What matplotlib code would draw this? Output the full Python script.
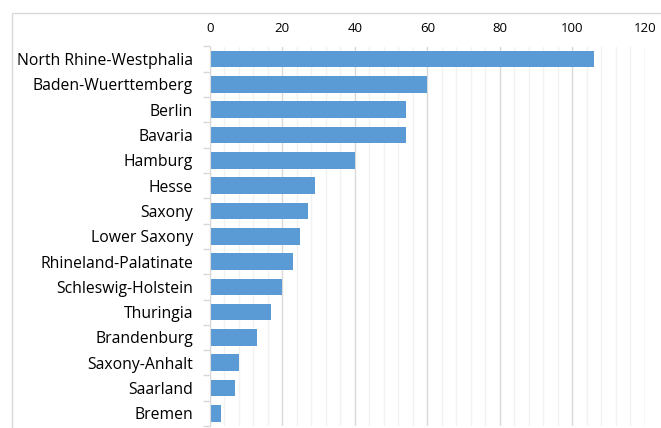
import matplotlib.pyplot as plt
import numpy as np
from matplotlib.patches import Rectangle

# number per state
states = ["North Rhine-Westphalia", "Baden-Wuerttemberg", "Berlin", "Bavaria",
          "Hamburg", "Hesse", "Saxony", "Lower Saxony", "Rhineland-Palatinate",
          "Schleswig-Holstein", "Thuringia", "Brandenburg", "Saxony-Anhalt",
          "Saarland", "Bremen"]
values = [106, 60, 54, 54, 40, 29, 27, 25, 23, 20, 17, 13, 8, 7, 3]
x_ticks = [0, 20, 40, 60, 80, 100, 120]

plt.rcParams['font.family'] = ['Open Sans', 'DejaVu Sans']

W, H = 661, 428
fig = plt.figure(figsize=(W / 100, H / 100), dpi=100)

# chart frame
fig.patches.append(Rectangle((12 / W, -0.1), 1.2, 1.1 - 13 / H,
                             transform=fig.transFigure, fill=False,
                             edgecolor='#D9D9D9', linewidth=1))

ax = fig.add_axes([209.7 / W, 2 / H, (645 - 209.7) / W, (426 - 46.5) / H])

y = np.arange(len(states))
ax.barh(y, values, height=0.66, color='#5B9BD5', zorder=3)
ax.set_ylim(len(states) - 0.5, -0.5)
ax.set_xlim(0, 120)

# gridlines: major every 20, minor every 4
for v in np.arange(0, 121, 4):
    if v % 20 == 0:
        ax.axvline(v, color='#D9D9D9', linewidth=1, zorder=1)
    else:
        ax.axvline(v, color='#F2F2F2', linewidth=1, zorder=1)

ax.xaxis.tick_top()
ax.set_xticks(x_ticks)
ax.set_xticklabels([str(t) for t in x_ticks], fontsize=9.5, color='#000000')
ax.tick_params(axis='x', length=0, pad=8.5)

ax.set_yticks(y)
ax.set_yticklabels(states, fontsize=11.3)
ax.tick_params(axis='y', which='major', length=0, pad=12)
ax.set_yticks(np.arange(-0.5, len(states), 1), minor=True)
ax.tick_params(axis='y', which='minor', length=5, color='#D9D9D9', width=1)

for s in ['top', 'right', 'bottom']:
    ax.spines[s].set_visible(False)
ax.spines['left'].set_color('#D9D9D9')
ax.spines['left'].set_zorder(4)

fig.savefig('out.png', dpi=100)
